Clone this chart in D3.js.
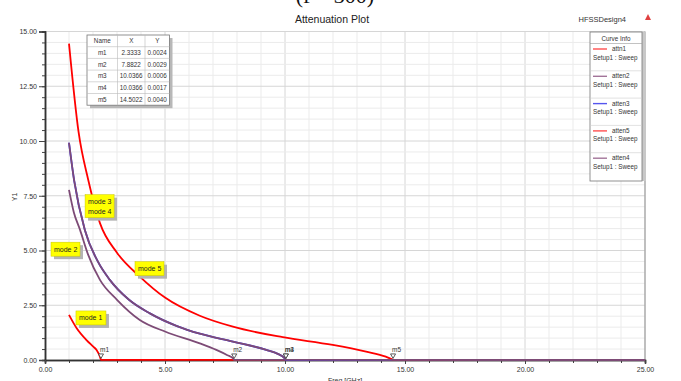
<!DOCTYPE html>
<html>
<head>
<meta charset="utf-8">
<script src="https://cdn.jsdelivr.net/npm/d3@7"></script>
<style>
  body { margin: 0; background: #fff; }
  svg { display: block; font-family: "Liberation Sans", Arial, sans-serif; }
</style>
</head>
<body>
<div id="chart"></div>
<script>
// values (freq in GHz, attenuation Y1)
const attn1Freq = [1.0, 1.32, 1.73, 2.0, 2.15, 2.29, 2.3333, 25];
const attn1Val  = [2.06, 1.45, 0.91, 0.62, 0.46, 0.15, 0.0024, 0];

const atten2Freq = [1.0, 1.2, 1.46, 1.8, 2.29, 3.0, 3.95, 5.0, 6.45, 7.14, 7.6, 7.83, 7.8822, 25];
const atten2Val  = [7.77, 6.75, 5.94, 4.8, 3.66, 2.75, 1.83, 1.3, 0.76, 0.46, 0.22, 0.08, 0.0029, 0];

const atten3Freq = [1.0, 1.21, 1.66, 2.2, 2.7, 3.5, 4.37, 5.5, 6.45, 7.83, 9.22, 9.7, 9.98, 10.0366, 25];
const atten3Val  = [9.92, 8.23, 5.94, 4.5, 3.66, 2.75, 2.13, 1.55, 1.2, 0.84, 0.46, 0.28, 0.08, 0.0006, 0];

const atten5Freq = [1.0, 1.4, 1.8, 2.29, 3.0, 3.95, 5.0, 6.45, 7.83, 9.91, 11.99, 13.38, 14.2, 14.46, 14.5022, 25];
const atten5Val  = [14.45, 10.4, 8.23, 6.25, 4.9, 3.81, 2.85, 2.02, 1.52, 1.04, 0.69, 0.38, 0.15, 0.03, 0.004, 0];

const atten4Freq = [1.0, 1.21, 1.66, 2.2, 2.7, 3.5, 4.37, 5.5, 6.45, 7.83, 9.22, 9.7, 9.98, 10.0366, 25];
const atten4Val  = [9.92, 8.23, 5.94, 4.5, 3.66, 2.75, 2.13, 1.55, 1.2, 0.84, 0.46, 0.28, 0.08, 0.0017, 0];

const markerNames = ["m1", "m2", "m3", "m4", "m5"];
const markerX = [2.3333, 7.8822, 10.0366, 10.0366, 14.5022];
const markerY = [0.0024, 0.0029, 0.0006, 0.0017, 0.0040];

const xTicks = [0, 5, 10, 15, 20, 25];
const yTicks = [0, 2.5, 5, 7.5, 10, 12.5, 15];

const modeLabels = [["mode 1"], ["mode 2"], ["mode 3", "mode 4"], ["mode 5"]];

const W = 681, H = 381;
const red = "#ff0000", purple = "#7d4b76";

const series = [
  { name: "attn1", color: red, f: attn1Freq, v: attn1Val, key: "#ff5050" },
  { name: "atten2", color: purple, f: atten2Freq, v: atten2Val, key: "#a27499" },
  { name: "atten3", color: "#3030ff", f: atten3Freq, v: atten3Val, key: "#5555ee" },
  { name: "atten5", color: red, f: atten5Freq, v: atten5Val, key: "#ff5050" },
  { name: "atten4", color: purple, f: atten4Freq, v: atten4Val, key: "#a27499" }
];

const svg = d3.select("#chart").append("svg")
  .attr("width", W).attr("height", H);

const x = d3.scaleLinear().domain([0, 25]).range([45, 645]);
const y = d3.scaleLinear().domain([0, 15]).range([360, 31.5]);

// cut-off caption above the chart
svg.append("text")
  .attr("x", 335).attr("y", 3)
  .attr("text-anchor", "middle")
  .style("font-family", "'Liberation Serif', 'Times New Roman', serif")
  .style("font-size", "22px").attr("fill", "#111")
  .text("(f = 300)");

svg.append("text")
  .attr("x", 332).attr("y", 23)
  .attr("text-anchor", "middle")
  .style("font-size", "10.5px").attr("fill", "#222")
  .text("Attenuation Plot");

svg.append("text")
  .attr("x", 626).attr("y", 22)
  .attr("text-anchor", "end")
  .style("font-size", "7.5px").attr("fill", "#333")
  .text("HFSSDesign4");

svg.append("path")
  .attr("d", "M648,14 L651,20 L645,20 Z")
  .attr("fill", "#e04040");

// grid
const grid = svg.append("g");
grid.selectAll(".vg").data(d3.range(1, 25, 1)).join("line")
  .attr("x1", d => x(d)).attr("x2", d => x(d))
  .attr("y1", y(15)).attr("y2", y(0))
  .attr("stroke", d => d % 5 === 0 ? "#d6d6d6" : "#ebebeb")
  .attr("stroke-width", 1);
grid.selectAll(".hg").data(d3.range(0.5, 15.01, 0.5)).join("line")
  .attr("x1", x(0)).attr("x2", x(25))
  .attr("y1", d => y(d)).attr("y2", d => y(d))
  .attr("stroke", d => d % 2.5 === 0 ? "#d6d6d6" : "#ebebeb")
  .attr("stroke-width", 1);

// right frame
svg.append("line")
  .attr("x1", x(25)).attr("x2", x(25)).attr("y1", y(15)).attr("y2", y(0))
  .attr("stroke", "#aaa").attr("stroke-width", 1.5);

// axes
const yMinor = svg.append("g").attr("transform", "translate(" + x(0) + ",0)")
  .call(d3.axisLeft(y).tickValues(d3.range(0, 15.01, 0.5)).tickSize(3).tickFormat(""));
const yAxis = svg.append("g").attr("transform", "translate(" + x(0) + ",0)")
  .call(d3.axisLeft(y).tickValues(yTicks).tickSize(6).tickPadding(2).tickFormat(d3.format(".2f")));
const xMinor = svg.append("g").attr("transform", "translate(0," + y(0) + ")")
  .call(d3.axisBottom(x).tickValues(d3.range(0, 25.01, 1)).tickSize(3).tickFormat(""));
const xAxis = svg.append("g").attr("transform", "translate(0," + y(0) + ")")
  .call(d3.axisBottom(x).tickValues(xTicks).tickSize(4).tickPadding(3).tickFormat(d3.format(".2f")));

[yMinor, yAxis, xMinor, xAxis].forEach(g => {
  g.select(".domain").attr("stroke", "#333").attr("stroke-width", 1.5);
  g.selectAll(".tick line").attr("stroke", "#444");
  g.selectAll(".tick text").attr("fill", "#333")
    .style("font-family", "'Liberation Sans', Arial, sans-serif").style("font-size", "7px");
});

svg.append("text")
  .attr("transform", "translate(17,197) rotate(-90)")
  .attr("text-anchor", "middle")
  .style("font-size", "7px").attr("fill", "#333")
  .text("Y1");

svg.append("text")
  .attr("x", 345).attr("y", 383)
  .attr("text-anchor", "middle")
  .style("font-size", "7px").attr("fill", "#333")
  .text("Freq [GHz]");

// curves
const line = d3.line()
  .x(d => x(d[0]))
  .y(d => y(d[1]))
  .curve(d3.curveMonotoneX);

svg.append("g").selectAll("path").data(series).join("path")
  .attr("d", s => line(s.f.map((f, i) => [f, s.v[i]])))
  .attr("fill", "none")
  .attr("stroke", s => s.color)
  .attr("stroke-width", 1.8);

// markers
const mk = svg.append("g");
markerNames.forEach((m, i) => {
  const px = x(markerX[i]), py = y(markerY[i]);
  mk.append("path")
    .attr("d", `M${px - 2.5},${py - 6} L${px + 2.5},${py - 6} L${px},${py - 1.5} Z`)
    .attr("fill", "#fff").attr("stroke", "#333").attr("stroke-width", 0.8);
  mk.append("text")
    .attr("x", px - 1).attr("y", py - 8)
    .style("font-size", "6.5px").attr("fill", "#333")
    .text(m);
});

// mode annotations (anchored in data units)
const modeAnchor = [[1.29, 2.24, 30], [0.25, 5.38, 29], [1.67, 7.55, 29], [3.75, 4.49, 29]];
modeLabels.forEach((lines, i) => {
  const bx = x(modeAnchor[i][0]), by = y(modeAnchor[i][1]);
  const bw = modeAnchor[i][2], bh = 5 + lines.length * 9;
  svg.append("rect").attr("x", bx + 3).attr("y", by + 3).attr("width", bw).attr("height", bh)
    .attr("fill", "#b4b4b4");
  svg.append("rect").attr("x", bx).attr("y", by).attr("width", bw).attr("height", bh)
    .attr("fill", "#ffff00").attr("stroke", "#c8c800").attr("stroke-width", 0.5);
  lines.forEach((t, j) => {
    svg.append("text")
      .attr("x", bx + 3).attr("y", by + 9.5 + j * 9.5)
      .style("font-size", "7px").attr("fill", "#222")
      .text(t);
  });
});

// marker table
const tbl = svg.append("g").attr("transform", "translate(87,35)");
const colX = [0, 30.5, 58, 82.5];
const rowH = 11.7;
const nRows = markerNames.length + 1;
tbl.append("rect").attr("x", 3).attr("y", 3).attr("width", colX[3]).attr("height", rowH * nRows)
  .attr("fill", "#b8b8b8");
tbl.append("rect").attr("width", colX[3]).attr("height", rowH * nRows)
  .attr("fill", "#fff").attr("stroke", "#777").attr("stroke-width", 0.8);
d3.range(1, nRows).forEach(r => {
  tbl.append("line").attr("x1", 0).attr("x2", colX[3]).attr("y1", r * rowH).attr("y2", r * rowH)
    .attr("stroke", "#bbb").attr("stroke-width", 0.6);
});
[1, 2].forEach(c => {
  tbl.append("line").attr("x1", colX[c]).attr("x2", colX[c]).attr("y1", 0).attr("y2", rowH * nRows)
    .attr("stroke", "#bbb").attr("stroke-width", 0.6);
});
const header = ["Name", "X", "Y"];
const rows = [header].concat(markerNames.map((m, i) => [m, markerX[i].toFixed(4), markerY[i].toFixed(4)]));
rows.forEach((r, ri) => {
  r.forEach((t, ci) => {
    tbl.append("text")
      .attr("x", (colX[ci] + colX[ci + 1]) / 2).attr("y", ri * rowH + 8.2)
      .attr("text-anchor", "middle")
      .style("font-size", "6.3px").attr("fill", "#333")
      .text(t);
  });
});

// curve info legend
const lg = svg.append("g").attr("transform", "translate(590,32)");
lg.append("rect").attr("x", 52).attr("y", 0).attr("width", 4).attr("height", 149)
  .attr("fill", "#c8c8c8");
lg.append("rect").attr("width", 52).attr("height", 149)
  .attr("fill", "#fff").attr("stroke", "#777").attr("stroke-width", 0.8);
lg.append("line").attr("x1", 0).attr("x2", 52).attr("y1", 11.5).attr("y2", 11.5)
  .attr("stroke", "#999").attr("stroke-width", 0.6);
lg.append("text").attr("x", 26).attr("y", 8.8).attr("text-anchor", "middle")
  .style("font-size", "6.3px").attr("fill", "#333").text("Curve Info");
series.forEach((s, i) => {
  const gy = 11.5 + i * 27.3;
  if (i > 0) {
    lg.append("line").attr("x1", 0).attr("x2", 52).attr("y1", gy).attr("y2", gy)
      .attr("stroke", "#ccc").attr("stroke-width", 0.6);
  }
  lg.append("line").attr("x1", 3).attr("x2", 17).attr("y1", gy + 5.5).attr("y2", gy + 5.5)
    .attr("stroke", s.key).attr("stroke-width", 1.4);
  lg.append("text").attr("x", 22).attr("y", gy + 7.5)
    .style("font-size", "6.3px").attr("fill", "#333").text(s.name);
  lg.append("text").attr("x", 3).attr("y", gy + 16)
    .style("font-size", "6.3px").attr("fill", "#333").text("Setup1 : Sweep");
});
</script>
</body>
</html>
